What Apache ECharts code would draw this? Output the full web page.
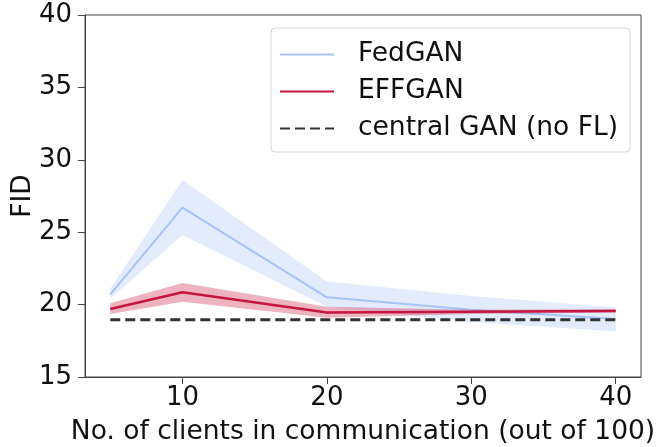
<!DOCTYPE html>
<html>
<head>
<meta charset="utf-8">
<script src="https://cdn.jsdelivr.net/npm/echarts@6/dist/echarts.min.js"></script>
<style>
    html, body { margin: 0; padding: 0; background: #fff; }
    #chart { width: 656px; height: 447px; }
</style>
</head>
<body>
<div id="chart"></div>
<script>
// clients in communication (x)
const clients = [5, 10, 20, 30, 40];

// FedGAN mean and band
const fedMean = [20.7, 26.7, 20.5, 19.65, 19.0];
const fedLow = [20.4, 24.8, 19.85, 18.8, 18.15];
const fedHigh = [21.1, 28.6, 21.6, 20.6, 19.8];

// EFFGAN mean and band
const effMean = [19.7, 20.85, 19.45, 19.5, 19.55];
const effLow = [19.35, 20.2, 19.1, 19.35, 19.45];
const effHigh = [20.1, 21.5, 19.85, 19.65, 19.7];

// central GAN baseline
const centralFid = [18.95, 18.95];
const centralX = [5, 40];

const xTicks = [10, 20, 30, 40];

const FONT = 'DejaVu Sans';

function pairs(xs, ys) {
    let out = [];
    for (let i = 0; i < xs.length; i++) {
        out.push([xs[i], ys[i]]);
    }
    return out;
}

// filled band between low and high, drawn through the axes
function band(name, lo, hi, fill, z) {
    return {
        name: name,
        type: 'custom',
        silent: true,
        z: z,
        data: [[clients[0], lo[0]]],
        renderItem: function (params, api) {
            let pts = [];
            for (let i = 0; i < clients.length; i++) {
                pts.push(api.coord([clients[i], hi[i]]));
            }
            for (let i = clients.length - 1; i >= 0; i--) {
                pts.push(api.coord([clients[i], lo[i]]));
            }
            return {
                type: 'polygon',
                shape: { points: pts },
                style: { fill: fill }
            };
        }
    };
}

const chart = echarts.init(document.getElementById('chart'));

chart.setOption({
    animation: false,
    textStyle: { fontFamily: FONT },
    grid: {
        left: 85,
        right: 15,
        top: 15,
        bottom: 70,
        show: true,
        borderColor: '#444',
        borderWidth: 1,
        containLabel: false,
        outerBoundsMode: 'none'
    },
    legend: {
        data: ['FedGAN', 'EFFGAN', 'central GAN (no FL)'],
        orient: 'vertical',
        left: 271,
        top: 28,
        padding: [13, 12, 10, 8],
        itemGap: 10,
        itemWidth: 54,
        itemHeight: 14,
        backgroundColor: 'rgba(255,255,255,0.8)',
        borderColor: '#d6d6d6',
        borderWidth: 1,
        borderRadius: 4,
        itemStyle: { opacity: 0, borderWidth: 0 },
        textStyle: {
            fontFamily: FONT,
            fontSize: 26.5,
            lineHeight: 26,
            color: '#111',
            padding: [0, 0, 0, 19]
        }
    },
    xAxis: {
        type: 'value',
        min: 3.25,
        max: 41.75,
        name: 'No. of clients in communication (out of 100)',
        nameLocation: 'middle',
        nameGap: 42,
        nameTextStyle: { fontFamily: FONT, fontSize: 26.5, color: '#111' },
        axisLine: { show: true, lineStyle: { color: '#444', width: 1 } },
        axisTick: { show: true, length: 7, customValues: xTicks, lineStyle: { color: '#444' } },
        axisLabel: { customValues: xTicks, fontFamily: FONT, fontSize: 26, color: '#111', margin: 8 },
        splitLine: { show: false }
    },
    yAxis: {
        type: 'value',
        min: 15,
        max: 40,
        interval: 5,
        name: 'FID',
        nameLocation: 'middle',
        nameRotate: 90,
        nameGap: 48,
        nameMoveOverlap: false,
        nameTextStyle: { fontFamily: FONT, fontSize: 26.5, color: '#111' },
        axisLine: { show: true, lineStyle: { color: '#444', width: 1 } },
        axisTick: { show: true, length: 7, lineStyle: { color: '#444' } },
        axisLabel: { fontFamily: FONT, fontSize: 26, color: '#111', margin: 13 },
        splitLine: { show: false }
    },
    series: [
        band('FedGAN band', fedLow, fedHigh, 'rgba(100,149,237,0.18)', 1),
        {
            name: 'FedGAN',
            type: 'line',
            z: 2,
            symbol: 'none',
            data: pairs(clients, fedMean),
            lineStyle: { color: '#a6c3fb', width: 2 },
            itemStyle: { color: '#a6c3fb' }
        },
        band('EFFGAN band', effLow, effHigh, 'rgba(200,20,60,0.32)', 3),
        {
            name: 'EFFGAN',
            type: 'line',
            z: 4,
            symbol: 'none',
            data: pairs(clients, effMean),
            lineStyle: { color: '#c4163f', width: 2.5 },
            itemStyle: { color: '#c4163f' }
        },
        {
            name: 'central GAN (no FL)',
            type: 'line',
            z: 5,
            symbol: 'none',
            data: pairs(centralX, centralFid),
            lineStyle: { color: '#333', width: 3, type: [10, 5] },
            itemStyle: { color: '#333' }
        }
    ]
});
</script>
</body>
</html>
